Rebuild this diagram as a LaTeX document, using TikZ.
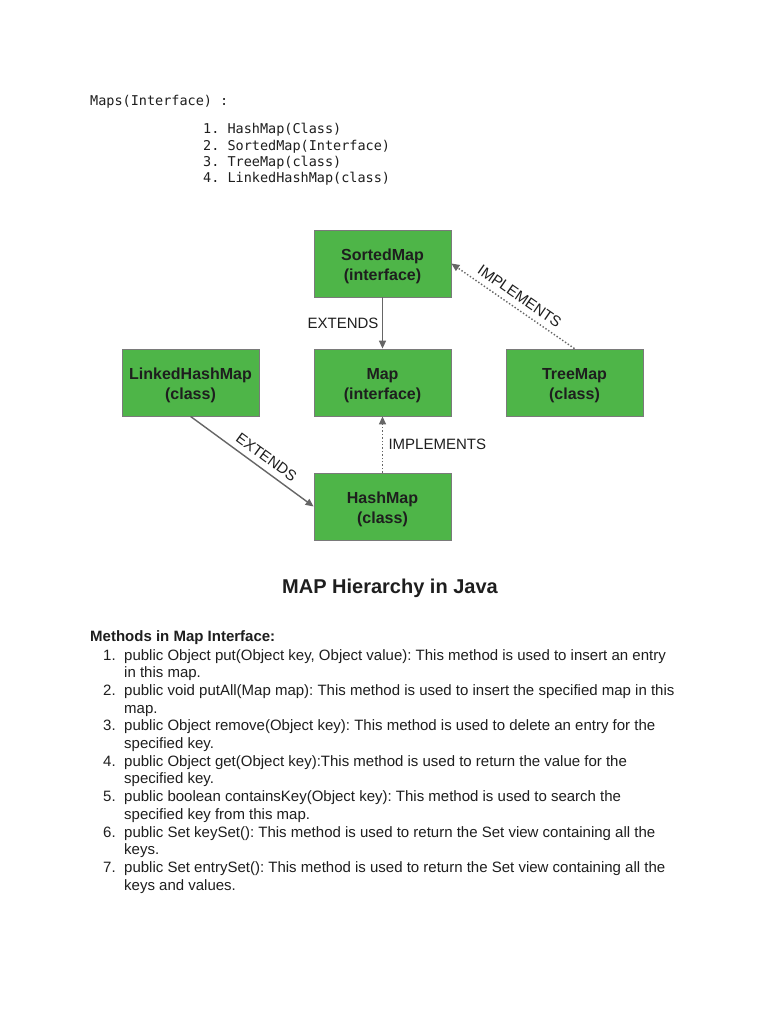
\documentclass[tikz,border=0pt]{standalone}
\usepackage{fontspec}
\setmainfont{Liberation Sans}
\newfontfamily\monof{DejaVu Sans Mono}
\usetikzlibrary{arrows.meta}
\definecolor{boxgreen}{HTML}{4EB548}
\definecolor{boxborder}{HTML}{7A7A7A}
\definecolor{edgegray}{HTML}{666666}
\definecolor{txt}{HTML}{1E1E1E}
\newcommand\boxstrut{\rule{0pt}{17.5pt}}
\frenchspacing
\begin{document}
\frenchspacing
\begin{tikzpicture}[x=1pt,y=-1pt,
  cls/.style={draw=boxborder, line width=0.8pt, fill=boxgreen, minimum width=137pt, minimum height=67pt,
    inner sep=0pt, align=center, font=\fontsize{16}{20}\selectfont\bfseries, text=txt},
  conn/.style={draw=edgegray, line width=1.4pt, -{Triangle[length=8pt,width=7pt]}},
  impl/.style={conn, dotted},
  lbl/.style={font=\fontsize{15}{18}\selectfont, text=txt},
  mono/.style={font=\monof\fontsize{13.5}{16}\selectfont, text=txt, inner sep=0pt, anchor=base west},
  body/.style={font=\fontsize{15}{18}\selectfont, text=txt, inner sep=0pt, anchor=base west},
  ttl/.style={font=\fontsize{20}{24}\selectfont\bfseries, text=txt, inner sep=0pt, anchor=base}
]
\useasboundingbox (0,0) rectangle (768,1024);
\fill[white] (0,0) rectangle (768,1024);

% header
\node[mono] (maps) at (90,105.5) {Maps(Interface) :};
\node[mono] (m1) at (203,134) {1. HashMap(Class)};
\node[mono] (m2) at (203,150.3) {2. SortedMap(Interface)};
\node[mono] (m3) at (203,166.6) {3. TreeMap(class)};
\node[mono] (m4) at (203,183) {4. LinkedHashMap(class)};

% diagram
\node[cls] (sorted) at (382.5,263.5) {\boxstrut SortedMap\\(interface)};
\node[cls] (map) at (382.5,382.5) {\boxstrut Map\\(interface)};
\node[cls] (linked) at (190.5,382.5) {\boxstrut LinkedHashMap\\(class)};
\node[cls] (tree) at (574.5,382.5) {\boxstrut TreeMap\\(class)};
\node[cls] (hash) at (382.5,506.5) {\boxstrut HashMap\\(class)};

\draw[conn] (sorted) -- node[lbl, left]{EXTENDS} (map);
\draw[impl] (hash) -- node[lbl, right, xshift=2pt]{IMPLEMENTS} (map);
\draw[impl] (tree.north) -- node[lbl, sloped, above, inner sep=6pt]{IMPLEMENTS} (sorted.east);
\draw[conn] (linked.south) -- node[lbl, sloped, above, pos=0.56, inner sep=6pt]{EXTENDS} (hash.west);

\node[ttl] (title) at (390,593) {MAP Hierarchy in Java};

% methods
\node[body] (head) at (90,641) {\bfseries Methods in Map Interface:};
\node[body] (n1) at (103,660.0) {1.};
\node[body] (l0) at (124,660.0) {public Object put(Object key, Object value): This method is used to insert an entry};
\node[body] (l1) at (124,677.7) {in this map.};
\node[body] (n2) at (103,695.4) {2.};
\node[body] (l2) at (124,695.4) {public void putAll(Map map): This method is used to insert the specified map in this};
\node[body] (l3) at (124,713.1) {map.};
\node[body] (n3) at (103,730.8) {3.};
\node[body] (l4) at (124,730.8) {public Object remove(Object key): This method is used to delete an entry for the};
\node[body] (l5) at (124,748.5) {specified key.};
\node[body] (n4) at (103,766.2) {4.};
\node[body] (l6) at (124,766.2) {public Object get(Object key):This method is used to return the value for the};
\node[body] (l7) at (124,783.9) {specified key.};
\node[body] (n5) at (103,801.6) {5.};
\node[body] (l8) at (124,801.6) {public boolean containsKey(Object key): This method is used to search the};
\node[body] (l9) at (124,819.3) {specified key from this map.};
\node[body] (n6) at (103,837.0) {6.};
\node[body] (l10) at (124,837.0) {public Set keySet(): This method is used to return the Set view containing all the};
\node[body] (l11) at (124,854.7) {keys.};
\node[body] (n7) at (103,872.4) {7.};
\node[body] (l12) at (124,872.4) {public Set entrySet(): This method is used to return the Set view containing all the};
\node[body] (l13) at (124,890.1) {keys and values.};
\end{tikzpicture}
\end{document}
